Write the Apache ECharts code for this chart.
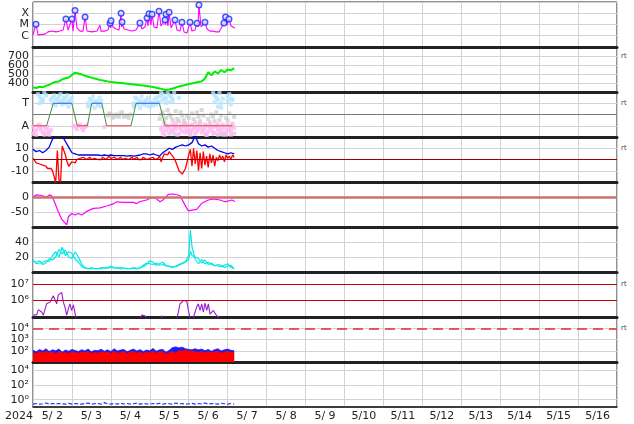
<!DOCTYPE html>
<html><head><meta charset="utf-8">
<script src="https://cdn.jsdelivr.net/npm/echarts@6/dist/echarts.min.js"></script>
<style>html,body{margin:0;padding:0;background:#fff}#c{width:634px;height:424px}</style>
</head><body><div id="c"></div>
<script>
const N_ = null;
// bottom tick labels (one per day)
const dayLabels = ['5/ 2','5/ 3','5/ 4','5/ 5','5/ 6','5/ 7','5/ 8','5/ 9','5/10','5/11','5/12','5/13','5/14','5/15','5/16'];
const yearLabel = '2024';

// Panel 1: X-ray flux (hours from 5/2 00:00)
const xrayH = [0,1.85,3.1,7.4,9.2,11.7,14.2,16.6,18.5,20.3,21.6,24.0,24.7,25.9,27.1,29.0,30.8,32.1,33.3,36.4,39.5,41.3,41.9,44.4,46.2,47.5,47.8,48.1,49.3,51.2,53.0,54.3,54.6,54.9,56.1,58.6,61.0,63.5,65.9,67.2,69.0,70.3,70.9,71.5,72.7,73.4,74.6,76.4,77.7,78.9,80.1,81.4,81.7,82.0,83.2,83.9,85.1,86.3,87.5,88.8,90.6,91.8,93.1,94.9,96.8,98.0,99.9,101.1,101.7,102.3,103.6,104.8,106.0,107.3,109.1,111.0,112.8,114.7,115.9,117.7,118.3,118.7,119.6,120.8,122.1,123.3,124.5];
const xrayF = [1.2e-6,1.05e-5,1.2e-6,1.4e-6,2.2e-6,2.6e-6,2.2e-6,2.6e-6,3.2e-6,3.1e-5,3.2e-6,3.1e-5,2.6e-6,1.8e-4,4.9e-6,2.6e-6,2.6e-6,4.6e-5,2.6e-6,2.2e-6,2.6e-6,9e-6,2.6e-6,2.6e-6,3.2e-6,1.3e-5,4.9e-6,2.2e-5,6e-6,4e-6,3.2e-6,1.0e-4,6e-6,1.65e-5,4e-6,3.2e-6,2.6e-6,3.2e-6,1.35e-5,4e-6,6e-6,3.8e-5,7.3e-6,9.1e-5,9e-6,8.1e-5,6e-6,4.9e-6,1.5e-4,7.3e-6,6e-6,2.5e-5,9e-6,8.1e-5,7.3e-6,1.2e-4,4.9e-6,4e-6,2.5e-5,3.2e-6,2.6e-6,1.6e-5,2.2e-6,1.75e-6,1.6e-5,2.6e-6,3.2e-6,1.3e-5,6e-6,5.4e-4,6e-6,4e-6,1.6e-5,4e-6,2.6e-6,2.6e-6,2.2e-6,2.2e-6,2.6e-6,1.35e-5,1.65e-5,4.6e-5,9e-6,3.1e-5,7.3e-6,6e-6,4.9e-6];
const flareH = [1.85,20.3,24.0,25.9,32.1,47.5,48.1,54.3,54.9,65.9,70.3,71.5,73.4,77.7,81.4,82.0,83.9,87.5,91.8,96.8,101.1,102.3,106.0,117.7,118.7,120.8];
const flareF = [1.05e-5,3.1e-5,3.1e-5,1.8e-4,4.6e-5,1.3e-5,2.2e-5,1.0e-4,1.65e-5,1.35e-5,3.8e-5,9.1e-5,8.1e-5,1.5e-4,2.5e-5,8.1e-5,1.2e-4,2.5e-5,1.6e-5,1.6e-5,1.3e-5,5.4e-4,1.6e-5,1.35e-5,4.6e-5,3.1e-5];
const xrayTicks = {'-4':'X','-5':'M','-6':'C'};

// Panel 2: solar wind speed, every 2 h
const speedV = [350,345,358,352,368,380,400,412,418,440,452,460,490,515,505,495,480,470,460,450,440,432,425,418,412,408,404,400,396,392,388,384,380,376,372,366,360,355,348,340,330,322,328,338,350,362,370,378,388,395,402,410,418,450,520,485,530,505,545,520,550,540,565];

// Panel 3: IMF sector (T=3, A=1); clouds at even hours (A,B) and odd hours (C)
const sectorH = [0,8.4,12.5,23.9,27.3,33.5,36.2,42.4,45.4,60.4,63.5,77.9,81.4,122.9];
const sectorV = [1,1,3,3,1,1,3,3,1,1,3,3,1,1];
const cyanA = [N_,N_,3.6,3.4,3.7,N_,3.5,3.3,3.6,3.2,3.4,3.1,3.5,N_,N_,N_,N_,3.0,3.3,3.1,2.8,3.2,N_,N_,N_,N_,N_,N_,N_,N_,N_,3.0,3.4,3.2,2.9,3.3,3.1,2.8,3.5,3.6,3.8,3.4,3.7,3.2,N_,3.5,N_,N_,N_,N_,N_,N_,N_,N_,N_,N_,3.7,3.3,3.0,N_,3.6,2.9,N_];
const cyanB = [N_,N_,3.0,3.2,N_,N_,3.0,2.8,3.1,2.9,3.0,2.7,3.0,N_,N_,N_,N_,2.7,2.9,2.6,3.0,2.7,N_,N_,N_,N_,N_,N_,N_,N_,N_,2.7,2.9,2.6,3.0,2.8,2.7,3.0,2.9,3.1,3.3,3.0,3.1,3.4,N_,N_,N_,N_,N_,N_,N_,N_,N_,N_,N_,N_,3.1,2.7,2.6,N_,3.2,3.4,N_];
const cyanC = [N_,3.8,3.3,3.9,N_,3.3,3.7,3.4,3.8,3.5,3.7,3.3,N_,N_,N_,N_,N_,3.4,3.6,3.2,3.5,N_,N_,N_,N_,N_,N_,N_,N_,N_,N_,3.5,3.0,3.6,3.2,3.5,3.0,3.3,3.1,3.9,3.5,3.9,3.6,3.9,N_,N_,N_,N_,N_,N_,N_,N_,N_,N_,N_,3.9,3.5,3.9,3.4,N_,3.8,3.3];
const pinkA = [0.9,0.6,0.8,0.4,0.7,0.5,N_,N_,N_,N_,N_,N_,N_,0.9,1.0,0.8,0.9,N_,N_,N_,N_,N_,0.9,N_,N_,N_,N_,N_,N_,N_,N_,N_,N_,N_,N_,N_,N_,N_,N_,N_,0.9,0.6,0.8,1.1,0.7,0.9,0.5,0.8,1.0,0.6,0.9,0.7,0.4,0.8,1.0,0.6,0.9,0.7,0.3,0.8,1.1,0.5,0.8];
const pinkB = [0.3,0.2,1.1,0.9,0.3,0.2,N_,N_,N_,N_,N_,N_,N_,N_,N_,N_,N_,N_,N_,N_,N_,N_,N_,N_,N_,N_,N_,N_,N_,N_,N_,N_,N_,N_,N_,N_,N_,N_,N_,N_,0.4,1.0,0.3,0.6,1.2,0.3,1.0,0.4,0.6,1.1,0.3,1.0,0.8,0.3,0.5,1.0,0.4,1.1,0.7,0.4,0.6,0.9,0.3];
const pinkC = [0.5,1.0,0.6,0.2,0.9,0.6,N_,N_,N_,N_,N_,N_,1.0,0.7,1.1,0.6,1.0,N_,N_,N_,N_,N_,N_,N_,N_,N_,N_,N_,N_,N_,N_,N_,N_,N_,N_,N_,N_,N_,N_,0.7,0.2,1.0,0.5,0.9,0.2,0.7,1.2,0.5,0.2,0.8,0.5,1.2,0.6,0.2,0.8,0.3,1.0,0.5,1.1,0.2,0.7,1.0];
const grayA = [N_,N_,N_,N_,N_,N_,N_,N_,N_,N_,N_,N_,N_,N_,N_,N_,N_,N_,N_,N_,N_,N_,N_,1.9,2.0,1.8,1.9,2.1,1.8,1.9,2.0,N_,N_,N_,N_,N_,N_,N_,N_,1.6,2.2,1.7,2.0,1.5,2.3,1.4,1.9,1.2,1.7,2.1,1.3,1.8,2.4,1.1,1.6,2.0,1.4,0.2,1.9,0.3,1.5,0.2,1.8];
const grayC = [N_,N_,N_,N_,N_,N_,N_,N_,N_,N_,N_,N_,N_,N_,N_,N_,N_,N_,N_,N_,N_,N_,N_,2.1,1.7,2.0,1.8,2.2,1.9,1.7,N_,N_,N_,N_,N_,N_,N_,N_,N_,2.0,1.3,2.4,1.8,0.3,1.6,2.2,1.5,1.9,0.4,1.6,2.2,1.4,1.9,0.2,1.3,1.8,2.2,1.5,0.2,1.7,2.1,1.2];

// Panel 4: IMF Bt (2 h) and Bz (1 h)
const btV = [9,7,8,6,8,11,18,22,22,21,16,11,6,5,4,4,4,4,4,4,4,3.5,4,3.5,4,3.5,3.5,3.5,3.5,3,3.5,3,3.5,4,5,5,4,5,4,3,6,8,10,9,11,12,13,12,13,15,21,14,12,13,11,12,10,8,7,6,5,6,5];
const bzV = [1,-1,-3,-2,-4,-3,-5,-4,-6,-8,
 -9,-8,-10,-15,-21,8,-18,-20,12,8,
 4,-2,-6,-4,-2,-1,-3,0,-1,1,
 0,2,1,0,1,2,0,1,1,2,
 0,1,0,2,1,0,1,3,1,0,
 2,1,0,1,2,0,1,1,2,0,
 1,2,0,1,2,0,1,0,2,1,
 0,-1,1,0,2,0,-1,1,3,-2,
 2,5,6,4,7,5,3,1,-2,-6,
 -10,-11,-13,-12,-8,-2,4,9,-6,10,
 -4,8,-10,6,-8,7,-5,3,-7,5,
 -3,4,-6,2,-1,4,0,3,-2,4,
 1,3,0,4,2];

// Panel 5: Dst
const dstH = [0,2.3,5.3,8.4,10.1,11.5,13.6,15.6,17.7,19.7,20.8,21.8,23.9,25.9,27.9,30.0,33.1,37.2,41.3,45.4,49.5,51.6,55.7,61.8,63.9,66.0,70.1,72.1,75.2,78.3,80.3,83.4,86.5,90.6,93.7,95.7,97.8,100.9,104.0,108.1,111.2,115.3,118.4,122.5,124.5];
const dstV = [1,7,5,0,7,4,-21,-49,-74,-86,-93,-66,-55,-60,-55,-60,-48,-38,-36,-30,-23,-16,-18,-18,-22,-15,-10,-4,-2,-16,-9,9,10,5,-27,-46,-44,-41,-21,-10,-6,-10,-16,-10,-15];

// Panel 6: two cyan traces
const denH = [0,2,4,6,8,10,12,14,16,18,20,22,24,26,28,30,32,34,36,38,40,42,44,46,48,50,52,54,56,58,60,62,64,66,68,70,72,74,76,78,80,82,84,86,88,90,92,94,96,97,98,100,102,104,106,108,110,112,114,116,118,120,122,124];
const denA = [17,11,12,13,15,14,22,27,20,33,22,27,25,17,13,7,5,5,4,5,4,6,5,6,8,6,5,6,5,4,5,5,4,6,7,10,15,13,9,11,13,9,7,6,8,10,12,14,22,56,34,17,11,17,11,13,10,9,8,7,9,11,6,5];
const denB = [14,13,15,10,12,18,16,20,30,24,29,20,18,27,20,10,6,4,6,4,5,4,6,5,6,5,6,4,5,5,4,6,5,5,9,12,11,10,12,9,10,8,8,7,7,9,11,13,17,28,22,20,18,12,16,10,12,8,10,9,6,8,9,4];

// Panel 7: electron flux (log)
const elecH = [0.2,2.3,3.3,4.3,5.3,6.4,7.4,8.4,9.5,10.5,11.5,12.5,13.6,14.6,15.6,16.6,17.7,18.7,19.7,20.8,21.8,22.8,23.8,24.9,25.9,26.5,27,66,67,68,69,70,71,79,79.3,79.6,80,88.6,89.6,90.6,92.7,93.7,94.8,95.8,96.8,97.5,98.8,99.9,100.9,101.9,103.0,104.0,105.0,106.0,107.1,108.1,109.1,111.2,113.2,114.3,115.3];
const elecV = [1.3e5,1.4e5,2.8e5,3.2e5,2e5,1.3e5,1.6e5,6.3e5,8e5,8e5,9e5,1.95e6,2.45e6,6.3e5,2.2e6,2.7e6,3.1e6,8e5,4e5,1.3e5,3.2e5,6.3e5,2.5e5,5.5e5,1.7e5,8e4,N_,8e4,1.3e5,1.5e5,1.2e5,8e4,N_,9e4,1.2e5,9e4,N_,8e4,2e5,6.3e5,1e6,1.1e6,9e5,2.5e5,9e4,N_,9e4,2e5,4e5,6.3e5,2.5e5,6.3e5,2e5,7e5,2.5e5,6.3e5,1.5e5,2.5e5,1.2e5,1.5e5,8e4];

// Panel 8: two noisy fluxes (upper envelope, every 2 h)
const p8Blue = [110,80,130,95,150,85,120,100,140,75,115,90,130,105,85,125,95,140,80,110,100,135,90,120,85,150,95,115,130,80,110,140,95,125,85,115,100,160,90,120,130,75,110,190,220,180,210,150,130,120,150,120,140,100,130,90,125,150,95,120,140,110,100];
const p8Red = [70,55,85,60,95,65,80,50,90,60,75,55,85,70,60,80,65,90,55,75,60,85,65,80,55,95,60,70,85,55,75,90,60,80,55,75,65,95,60,80,85,50,70,90,60,110,90,120,85,100,80,70,90,60,85,65,80,95,60,75,90,70,65];

// Panel 9: low-level flux (every 2 h)
const p9Blue = [0.25,0.3,0.25,0.28,0.35,0.25,0.3,0.25,0.3,0.27,0.25,0.32,0.25,0.3,0.26,0.25,0.3,0.35,0.25,0.28,0.3,0.25,0.4,0.27,0.25,0.3,0.25,0.33,0.26,0.3,0.25,0.28,0.35,0.25,0.3,0.27,0.25,0.3,0.26,0.32,0.25,0.3,0.28,0.25,0.35,0.27,0.3,0.25,0.28,0.32,0.25,0.3,0.26,0.35,0.25,0.3,0.27,0.25,0.33,0.28,0.25,0.3,0.26];

const sup = {'0':'⁰','1':'¹','2':'²','3':'³','4':'⁴','5':'⁵','6':'⁶','7':'⁷','8':'⁸','9':'⁹'};
const pow = e => '10' + String(e).split('').map(c => sup[c] || c).join('');

const FONT = 'DejaVu Sans';
const GRIDC = '#d2d2d2';
const TOP = 2, H = 45, NP = 9;
const grids = [], xAxes = [], yAxes = [];
for (let i = 0; i < NP; i++) {
  grids.push({left: 33, right: 17, top: TOP + H * i, height: H, show: true, borderColor: '#222', borderWidth: 1});
  xAxes.push({type: 'value', gridIndex: i, min: 0, max: 360, interval: 24,
    axisLabel: {show: false}, axisTick: {show: false},
    axisLine: {show: true, onZero: false, lineStyle: {color: '#222', width: i < 8 ? 3 : 1.5}},
    splitLine: {show: true, lineStyle: {color: GRIDC, width: 1}}});
}
xAxes.push({type: 'category', gridIndex: 8, data: dayLabels, boundaryGap: true, position: 'bottom',
  axisLine: {show: false}, axisTick: {show: false}, splitLine: {show: false},
  axisLabel: {show: true, interval: 0, fontSize: 11, fontFamily: FONT, color: '#222', margin: 4}});

const lab = {fontSize: 11, fontFamily: FONT, color: '#222', margin: 4};
const sl = {show: true, lineStyle: {color: GRIDC, width: 1}};
function yA(i, o) {
  return Object.assign({gridIndex: i, axisLine: {show: false}, axisTick: {show: false}, splitLine: sl}, o);
}
yAxes.push(yA(0, {type: 'log', logBase: 10, min: 1e-7, max: 1e-3,
  axisLabel: Object.assign({}, lab, {formatter: v => xrayTicks[String(Math.round(Math.log10(v)))] || ''})}));
yAxes.push(yA(1, {type: 'value', min: 300, max: 800, interval: 100,
  axisLabel: Object.assign({}, lab, {formatter: v => (v > 300 && v < 800) ? String(v) : ''})}));
yAxes.push(yA(2, {type: 'value', min: 0, max: 4, interval: 1,
  axisLabel: Object.assign({}, lab, {formatter: v => v === 3 ? 'T' : (v === 1 ? 'A' : '')})}));
yAxes.push(yA(3, {type: 'value', min: -20, max: 20, interval: 10,
  axisLabel: Object.assign({}, lab, {formatter: v => Math.abs(v) < 20 ? String(v) : ''})}));
yAxes.push(yA(4, {type: 'value', min: -100, max: 50, interval: 50,
  axisLabel: Object.assign({}, lab, {formatter: v => (v === 0 || v === -50) ? String(v) : ''})}));
yAxes.push(yA(5, {type: 'value', min: 0, max: 60, interval: 20,
  axisLabel: Object.assign({}, lab, {formatter: v => (v === 20 || v === 40) ? String(v) : ''})}));
yAxes.push(yA(6, {type: 'log', logBase: 10, min: 1e5, max: 5.4e7,
  axisLabel: Object.assign({}, lab, {formatter: v => { const e = Math.round(Math.log10(v)); return (e === 6 || e === 7) ? pow(e) : ''; }})}));
yAxes.push(yA(7, {type: 'log', logBase: 10, min: 10, max: 1e5,
  axisLabel: Object.assign({}, lab, {formatter: v => { const e = Math.round(Math.log10(v)); return (e >= 2 && e <= 4) ? pow(e) : ''; }})}));
yAxes.push(yA(8, {type: 'log', logBase: 10, min: 0.1, max: 1.5e5, splitLine: {show: false},
  axisLabel: Object.assign({}, lab, {formatter: v => { const e = Math.round(Math.log10(v)); return (e === 0 || e === 2 || e === 4) ? pow(e) : ''; }})}));

const rtLabel = {show: true, position: 'end', formatter: 'rt', fontSize: 7, color: '#444', fontFamily: FONT, distance: 4};
const rt = val => ({yAxis: val, lineStyle: {color: 'rgba(0,0,0,0)'}, label: rtLabel});
const ml = (data) => ({silent: true, symbol: 'none', animation: false, label: {show: false}, data: data});
const hl = (val, color, width, type) => ({yAxis: val, lineStyle: {color: color, width: width, type: type || 'solid'}});

const pairs = (hs, vs) => hs.map((h, i) => [h, vs[i] == null ? '-' : vs[i]]);
const stepped = (vs, step) => vs.map((v, i) => [i * step, v]);
const pts = (vs, step, off) => vs.map((v, i) => v == null ? null : [off + i * step, v]).filter(p => p);

const series = [];
const line = (i, data, color, width, extra) => Object.assign({type: 'line', xAxisIndex: i, yAxisIndex: i, data: data,
  symbol: 'none', showSymbol: false, lineStyle: {color: color, width: width}, itemStyle: {color: color}, animation: false, clip: true}, extra || {});

// Panel 1
series.push(line(0, pairs(xrayH, xrayF), '#ff00ff', 1.1));
series.push({type: 'scatter', xAxisIndex: 0, yAxisIndex: 0, data: pairs(flareH, flareF), symbol: 'circle', symbolSize: 5.5, z: 5,
  itemStyle: {color: '#e4e8ff', borderColor: '#1a2cff', borderWidth: 1.5}, animation: false});
// Panel 2
series.push(line(1, stepped(speedV, 2), '#00ee00', 2, {markLine: ml([rt(700)])}));
// Panel 3
const sc = (vs, off, color) => ({type: 'scatter', xAxisIndex: 2, yAxisIndex: 2, data: pts(vs, 2, off), symbol: 'rect', symbolSize: 4,
  itemStyle: {color: color}, animation: false, silent: true});
series.push(sc(grayA, 0, '#cfcfcf'));
series.push(sc(grayC, 1, '#cfcfcf'));
series.push(sc(pinkA, 0, '#ffb6f2'));
series.push(sc(pinkB, 0, '#ffb6f2'));
series.push(sc(pinkC, 1, '#ffb6f2'));
series.push(sc(cyanA, 0, '#b4e6ff'));
series.push(sc(cyanB, 0, '#b4e6ff'));
series.push(sc(cyanC, 1, '#b4e6ff'));
for (let k = 0; k < sectorH.length - 1; k++) {
  const a = sectorV[k], b = sectorV[k + 1];
  const c = (a === 3 && b === 3) ? '#3c50ff' : ((a === 1 && b === 1) ? '#e84040' : '#3f8f3f');
  const s = line(2, [[sectorH[k], a], [sectorH[k + 1], b]], c, 1);
  if (k === 0) s.markLine = ml([hl(2, '#777777', 1), rt(3)]);
  series.push(s);
}
// Panel 4
series.push(line(3, stepped(btV, 2), '#0000ee', 1.3));
series.push(line(3, stepped(bzV, 1), '#ff0000', 1.3, {markLine: ml([hl(0, '#a00000', 1), rt(10)])}));
// Panel 5
series.push(line(4, pairs(dstH, dstV), '#ff00ff', 1.2, {markLine: ml([hl(0, '#cc7070', 2.5)]), z: 3}));
// Panel 6
series.push(line(5, pairs(denH, denB), '#00e8e8', 1.2));
series.push(line(5, pairs(denH, denA), '#00e8e8', 1.2));
// Panel 7
series.push(line(6, pairs(elecH, elecV), '#9a1ed0', 1.1, {markLine: ml([hl(1e6, '#cc0000', 1), hl(1e7, '#cc0000', 1), rt(1e7)])}));
// Panel 8
series.push(line(7, stepped(p8Blue, 2), '#1020ff', 0.8, {areaStyle: {color: '#1020ff', opacity: 1, origin: 'start'}}));
series.push(line(7, stepped(p8Red, 2), '#ff0000', 0.8, {areaStyle: {color: '#ff0000', opacity: 1, origin: 'start'},
  markLine: ml([Object.assign(hl(1e4, '#e03030', 1.5, [10, 6]), {label: rtLabel})])}));
// Panel 9
series.push(line(8, stepped(p9Blue, 2), '#2233ff', 1, {lineStyle: {color: '#2233ff', width: 1.2, type: [4, 2]},
  markLine: ml([hl(1, GRIDC, 1), hl(100, GRIDC, 1), hl(1e4, GRIDC, 1)])}));

const chart = echarts.init(document.getElementById('c'), null, {renderer: 'canvas'});
chart.setOption({
  animation: false,
  backgroundColor: '#ffffff',
  grid: grids, xAxis: xAxes, yAxis: yAxes, series: series,
  graphic: [{type: 'text', left: 5, top: 411, style: {text: yearLabel, font: '11px "DejaVu Sans"', fill: '#222'}}]
});
</script></body></html>
